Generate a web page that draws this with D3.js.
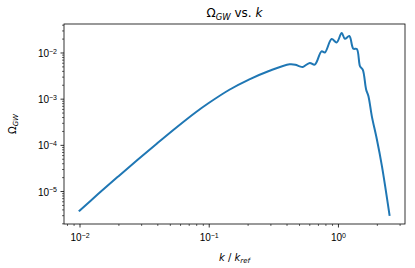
<!DOCTYPE html>
<html>
<head>
<meta charset="utf-8">
<script src="https://cdn.jsdelivr.net/npm/d3@7"></script>
<style>
  body { margin: 0; background: #fff; }
  svg { display: block; font-family: "DejaVu Sans", sans-serif; }
</style>
</head>
<body>
<svg id="chart" width="415" height="268"></svg>
<script>
// k / k_ref values
const kValues = [0.01, 0.01413, 0.01995, 0.02818, 0.03981, 0.05623, 0.07943, 0.1, 0.1445, 0.2065,
    0.2958, 0.4227, 0.4677, 0.5058, 0.5346, 0.6053, 0.6622, 0.7464, 0.7925, 0.8933, 0.9772,
    1.069, 1.132, 1.225, 1.315, 1.400, 1.483, 1.556, 1.652, 1.722, 1.828,
    2.000, 2.188, 2.506];
// Omega_GW values
const omegaValues = [3.76e-6, 8.91e-6, 2.07e-5, 4.75e-5, 1.07e-4, 2.37e-4, 5.07e-4, 8.04e-4, 1.56e-3, 2.62e-3,
    4.03e-3, 5.56e-3, 5.45e-3, 5.01e-3, 4.87e-3, 5.94e-3, 5.46e-3, 1.06e-2, 1.0e-2, 1.95e-2, 1.65e-2,
    2.63e-2, 1.98e-2, 2.27e-2, 1.21e-2, 1.19e-2, 5.01e-3, 4.26e-3, 1.58e-3, 1.13e-3, 4.2e-4,
    1.32e-4, 3.51e-5, 3.04e-6];
const xTickExponents = [-2, -1, 0];
const yTickExponents = [-5, -4, -3, -2];

const data = kValues.map((k, i) => ({ k, omega: omegaValues[i] }));

const margin = { top: 24, right: 10, bottom: 44, left: 64 };
const width = 415 - margin.left - margin.right;
const height = 268 - margin.top - margin.bottom;

// matplotlib style 5% padding in log space
const padLog = (ext) => {
    const a = Math.log10(ext[0]), b = Math.log10(ext[1]);
    const m = (b - a) * 0.05;
    return [Math.pow(10, a - m), Math.pow(10, b + m)];
};

const xScale = d3.scaleLog()
    .domain(padLog(d3.extent(data, (d) => d.k)))
    .range([0, width]);
const yScale = d3.scaleLog()
    .domain(padLog(d3.extent(data, (d) => d.omega)))
    .range([height, 0]);

const svgEl = d3.select('#chart');
const svg = svgEl.append('g')
    .attr('transform', `translate(${margin.left},${margin.top})`);

// minor ticks for a log domain
const minorTicks = (scale) => {
    const [lo, hi] = scale.domain();
    const out = [];
    for (let e = Math.floor(Math.log10(lo)); e <= Math.ceil(Math.log10(hi)); e++) {
        for (let m = 2; m <= 9; m++) {
            const v = m * Math.pow(10, e);
            if (v >= lo && v <= hi) out.push(v);
        }
    }
    return out;
};

const styleAxis = (g) => {
    g.select('.domain').remove();
    g.selectAll('line').attr('stroke', '#000').attr('stroke-width', 0.8);
};

// power-of-ten tick text with superscript
const powText = (sel, exps) => {
    sel.each(function (d, i) {
        const e = exps[i];
        const t = d3.select(this).text('');
        t.append('tspan').text('10');
        t.append('tspan').attr('dy', '-0.45em').attr('font-size', '7px')
            .text(e < 0 ? '\u2212' + (-e) : String(e));
    });
};

// X axis
const xMinor = svg.append('g')
    .attr('transform', `translate(0,${height})`)
    .call(d3.axisBottom(xScale).tickValues(minorTicks(xScale)).tickSize(2).tickFormat(''));
styleAxis(xMinor);
xMinor.selectAll('line').attr('stroke-width', 0.6);

const xMajor = svg.append('g')
    .attr('transform', `translate(0,${height})`)
    .call(d3.axisBottom(xScale)
        .tickValues(xTickExponents.map((e) => Math.pow(10, e)))
        .tickSize(3.5).tickPadding(3.5));
styleAxis(xMajor);
xMajor.selectAll('text')
    .attr('fill', '#000').attr('font-size', '10px').attr('dy', '1em')
    .call(powText, xTickExponents);

// Y axis
const yMinor = svg.append('g')
    .call(d3.axisLeft(yScale).tickValues(minorTicks(yScale)).tickSize(2).tickFormat(''));
styleAxis(yMinor);
yMinor.selectAll('line').attr('stroke-width', 0.6);

const yMajor = svg.append('g')
    .call(d3.axisLeft(yScale)
        .tickValues(yTickExponents.map((e) => Math.pow(10, e)))
        .tickSize(3.5).tickPadding(3.5));
styleAxis(yMajor);
yMajor.selectAll('text')
    .attr('fill', '#000').attr('font-size', '10px').attr('dy', '0.4em')
    .call(powText, yTickExponents);

// frame
svg.append('rect')
    .attr('width', width).attr('height', height)
    .attr('fill', 'none').attr('stroke', '#000').attr('stroke-width', 0.8);

// the curve
const line = d3.line()
    .x((d) => xScale(d.k))
    .y((d) => yScale(d.omega))
    .curve(d3.curveCatmullRom.alpha(0.5));

svg.append('path')
    .attr('d', line(data))
    .attr('fill', 'none')
    .attr('stroke', '#1f77b4')
    .attr('stroke-width', 2)
    .attr('stroke-linejoin', 'round')
    .attr('stroke-linecap', 'square');

// title
const title = svgEl.append('text')
    .attr('x', margin.left + width / 2).attr('y', 17)
    .attr('text-anchor', 'middle').attr('font-size', '12px').attr('fill', '#000');
title.append('tspan').text('\u03A9');
title.append('tspan').attr('font-style', 'italic').attr('font-size', '8.5px').attr('dy', '2.5').text('GW');
title.append('tspan').attr('dy', '-2.5').text(' vs. ');
title.append('tspan').attr('font-style', 'italic').text('k');

// x label
const xLabel = svgEl.append('text')
    .attr('x', margin.left + width / 2).attr('y', 261)
    .attr('text-anchor', 'middle').attr('font-size', '10px').attr('fill', '#000');
xLabel.append('tspan').attr('font-style', 'italic').text('k');
xLabel.append('tspan').text(' / ');
xLabel.append('tspan').attr('font-style', 'italic').text('k');
xLabel.append('tspan').attr('font-style', 'italic').attr('font-size', '7px').attr('dy', '2').text('ref');

// y label
const yLabel = svgEl.append('text')
    .attr('transform', `translate(16,${margin.top + height / 2}) rotate(-90)`)
    .attr('text-anchor', 'middle').attr('font-size', '10px').attr('fill', '#000');
yLabel.append('tspan').text('\u03A9');
yLabel.append('tspan').attr('font-style', 'italic').attr('font-size', '7px').attr('dy', '2').text('GW');
</script>
</body>
</html>
